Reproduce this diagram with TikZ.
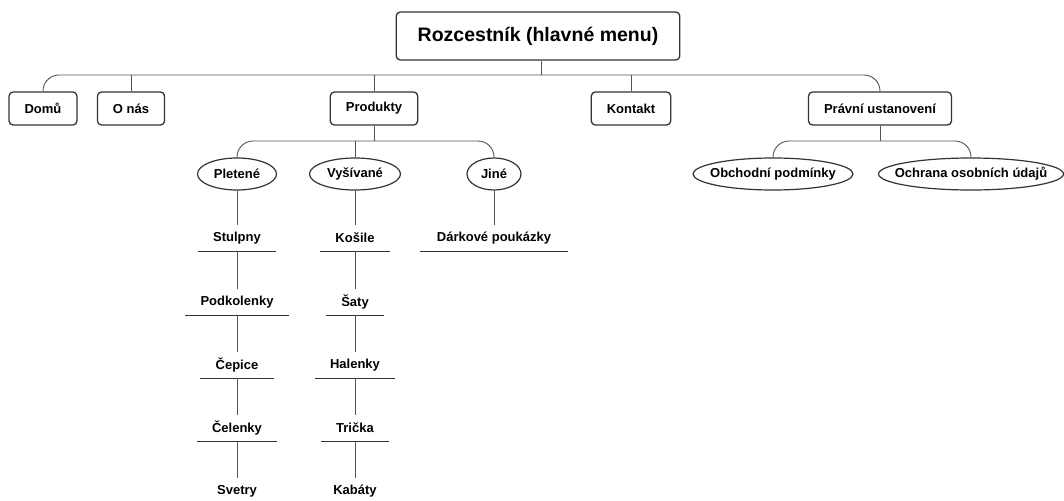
\documentclass[tikz,border=0pt]{standalone}
\usepackage{fontspec}
\setmainfont{Liberation Sans}
\usetikzlibrary{shapes.geometric}
\definecolor{boxline}{HTML}{333333}
\definecolor{connline}{HTML}{555555}
\tikzset{
  conn/.style={draw=connline, line width=0.9pt},
  menubox/.style={draw=boxline, line width=1.3pt, rounded corners=4pt, fill=white,
    minimum height=33, inner xsep=15.5, inner ysep=0,
    font=\fontsize{13}{15}\selectfont\bfseries},
  rootbox/.style={menubox, minimum height=48, inner xsep=21.5,
    font=\fontsize{19.5}{22}\selectfont\bfseries},
  oval/.style={shape=ellipse, draw=boxline, line width=1.2pt, inner sep=0,
    minimum height=32, font=\fontsize{13}{15}\selectfont\bfseries},
  item/.style={inner xsep=15, inner ysep=0, minimum height=26,
    font=\fontsize{13}{15}\selectfont\bfseries},
  underline/.style={draw=boxline, line width=1.3pt}
}
\begin{document}
\begin{tikzpicture}[x=1pt,y=-1pt]
\useasboundingbox (0,0) rectangle (1064,500);
% root
\node[rootbox] (root) at (538,36) {Rozcestník (hlavné menu)};
% first level
\node[menubox] (domu) at (43,108.5) {Domů};
\node[menubox] (onas) at (131,108.5) {O nás};
\node[menubox] (prod) at (374,108.5) {Produkty};
\node[menubox] (kont) at (631,108.5) {Kontakt};
\node[menubox] (prav) at (880,108.5) {Právní ustanovení};
\coordinate (bus) at (541,75);
\draw[conn] (root.south -| bus) -- (bus);
\draw[conn, rounded corners=16] (domu.north) -- (domu.north |- bus) -- (prav.north |- bus) -- (prav.north);
\draw[conn] (onas.north) -- (onas.north |- bus);
\draw[conn] (prod.north) -- (prod.north |- bus);
\draw[conn] (kont.north) -- (kont.north |- bus);
% products
\node[oval, minimum width=79] (plet) at (237,174) {\makebox[0pt]{Pletené}};
\node[oval, minimum width=91] (vysi) at (355,174) {\makebox[0pt]{Vyšívané}};
\node[oval, minimum width=54] (jine) at (494,174) {\makebox[0pt]{Jiné}};
\coordinate (pbus) at (374,141);
\draw[conn] (prod.south) -- (pbus);
\draw[conn, rounded corners=16] (plet.north) -- (plet.north |- pbus) -- (jine.north |- pbus) -- (jine.north);
\draw[conn] (vysi.north) -- (vysi.north |- pbus);
% legal
\node[oval, minimum width=160] (obch) at (773,174) {\makebox[0pt]{Obchodní podmínky}};
\node[oval, minimum width=185] (ochr) at (971,174) {\makebox[0pt]{Ochrana osobních údajů}};
\coordinate (lbus) at (880,141);
\draw[conn] (prav.south) -- (lbus);
\draw[conn, rounded corners=16] (obch.north) -- (obch.north |- lbus) -- (ochr.north |- lbus) -- (ochr.north);
% Pletené column
\node[item] (stul) at (237,238) {Stulpny};
\node[item] (podk) at (237,302) {Podkolenky};
\node[item] (cepi) at (237,365) {Čepice};
\node[item] (cele) at (237,428) {Čelenky};
\node[item] (svet) at (237,491) {Svetry};
\foreach \n in {stul,podk,cepi,cele} \draw[underline] (\n.south west) -- (\n.south east);
\draw[conn] (plet.south) -- (stul.north);
\draw[conn] (stul.south) -- (podk.north);
\draw[conn] (podk.south) -- (cepi.north);
\draw[conn] (cepi.south) -- (cele.north);
\draw[conn] (cele.south) -- (svet.north);
% Vyšívané column
\node[item] (kosi) at (355,238) {Košile};
\node[item] (saty) at (355,302) {Šaty};
\node[item] (hale) at (355,365) {Halenky};
\node[item] (tric) at (355,428) {Trička};
\node[item] (kaba) at (355,491) {Kabáty};
\foreach \n in {kosi,saty,hale,tric} \draw[underline] (\n.south west) -- (\n.south east);
\draw[conn] (vysi.south) -- (kosi.north);
\draw[conn] (kosi.south) -- (saty.north);
\draw[conn] (saty.south) -- (hale.north);
\draw[conn] (hale.south) -- (tric.north);
\draw[conn] (tric.south) -- (kaba.north);
% Jiné column
\node[item, inner xsep=17] (dark) at (494,238) {Dárkové poukázky};
\draw[underline] (dark.south west) -- (dark.south east);
\draw[conn] (jine.south) -- (dark.north);
\end{tikzpicture}
\end{document}
